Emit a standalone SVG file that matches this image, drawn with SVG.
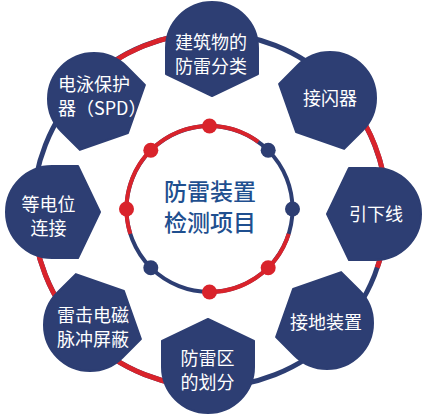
<svg xmlns="http://www.w3.org/2000/svg" width="424" height="420" viewBox="0 0 424 420">
  <defs>
    <style>
      .ring { fill: none; stroke-width: 5; }
      .iring { fill: none; stroke-width: 4; }
      .red { stroke: #d9232b; }
      .blue { stroke: #2d3e73; }
      .dr { fill: #d9232b; }
      .db { fill: #2d3e73; }
      .shape { fill: #2d3e73; stroke: #2d3e73; stroke-width: 2; stroke-linejoin: round; }
      .lbl { fill: #ffffff; font-family: "Noto Sans CJK SC", "Noto Sans", sans-serif; font-size: 18px; text-anchor: middle; }
      .title { fill: #1f4f8f; font-family: "Noto Sans CJK SC", "Noto Sans", sans-serif; font-size: 23px; font-weight: 500; text-anchor: middle; }
    </style>
    <path id="pin" d="M -46 0 A 46 46 0 0 1 46 0 L 46 26 L 0 48 L -46 26 Z"/>
  </defs>
  <rect width="424" height="420" fill="#ffffff"/>

  <g id="connectors">
    <circle class="ring blue" cx="210" cy="210" r="177"/>
    <path class="ring red" d="M 210 387 A 177 177 0 0 1 33 210"/>
    <path class="ring red" d="M 84.84 84.84 A 177 177 0 0 1 210 33"/>
    <path class="ring red" d="M 335.16 84.84 A 177 177 0 0 1 377.36 267.63"/>

    <circle class="iring blue" cx="209.5" cy="209" r="83"/>
    <path class="iring red" d="M 130.34 233.96 A 83 83 0 0 1 258.29 141.85"/>
    <path class="iring red" d="M 288.66 233.96 A 83 83 0 0 1 203.13 291.76"/>
    <circle class="dr" cx="209.5" cy="126" r="7.5"/>
    <circle class="db" cx="268.19" cy="150.31" r="7.5"/>
    <circle class="db" cx="292.5" cy="209" r="7.5"/>
    <circle class="dr" cx="268.19" cy="267.69" r="7.5"/>
    <circle class="dr" cx="209.5" cy="292" r="7.5"/>
    <circle class="db" cx="150.81" cy="267.69" r="7.5"/>
    <circle class="dr" cx="126.5" cy="209" r="7.5"/>
    <circle class="dr" cx="150.81" cy="150.31" r="7.5"/>
  </g>

  <g id="center">
    <text class="title"><tspan x="210" y="200">防雷装置</tspan><tspan x="210" y="231">检测项目</tspan></text>
  </g>

  <g id="n1">
    <use href="#pin" class="shape" transform="translate(212,48)"/>
    <text class="lbl"><tspan x="211" y="49">建筑物的</tspan><tspan x="211" y="73">防雷分类</tspan></text>
  </g>
  <g id="n2">
    <use href="#pin" class="shape" transform="translate(330,98) rotate(45)"/>
    <text class="lbl" x="330" y="105">接闪器</text>
  </g>
  <g id="n3">
    <use href="#pin" class="shape" transform="translate(375,214) rotate(90)"/>
    <text class="lbl" x="376" y="221">引下线</text>
  </g>
  <g id="n4">
    <use href="#pin" class="shape" transform="translate(327,323) rotate(135)"/>
    <text class="lbl" x="326" y="329">接地装置</text>
  </g>
  <g id="n5">
    <use href="#pin" class="shape" transform="translate(208,367) rotate(180)"/>
    <text class="lbl"><tspan x="207.5" y="365">防雷区</tspan><tspan x="207.5" y="389">的划分</tspan></text>
  </g>
  <g id="n6">
    <use href="#pin" class="shape" transform="translate(90,325) rotate(225)"/>
    <text class="lbl"><tspan x="93" y="322">雷击电磁</tspan><tspan x="93" y="346">脉冲屏蔽</tspan></text>
  </g>
  <g id="n7">
    <use href="#pin" class="shape" transform="translate(52,212) rotate(270)"/>
    <text class="lbl"><tspan x="48.5" y="211">等电位</tspan><tspan x="48.5" y="235">连接</tspan></text>
  </g>
  <g id="n8">
    <use href="#pin" class="shape" transform="translate(94,99) rotate(315)"/>
    <text class="lbl" style="text-anchor:start"><tspan x="58" y="91">电泳保护</tspan><tspan x="58" y="115">器（SPD）</tspan></text>
  </g>
</svg>
